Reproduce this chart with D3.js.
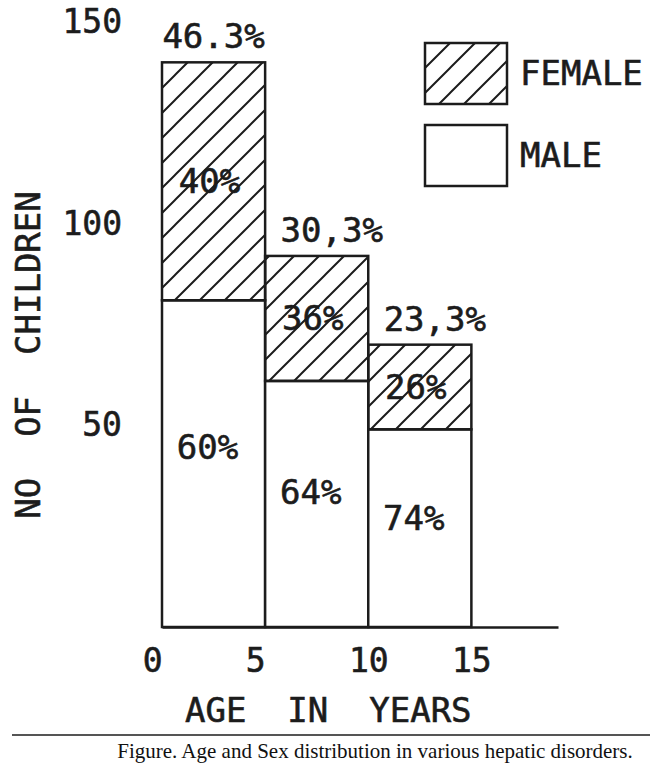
<!DOCTYPE html>
<html>
<head>
<meta charset="utf-8">
<script src="https://cdn.jsdelivr.net/npm/d3@7"></script>
<style>
  body { margin: 0; background: #fff; }
  text { white-space: pre; }
  text.mono { stroke: #1c1c1c; stroke-width: 0.6px; }
</style>
</head>
<body>
<div id="drawArea"></div>
<script>
// age groups (years) and counts
var ageStart = [0, 5, 10];
var ageEnd = [5, 10, 15];
var male = [81, 61, 49];
var female = [59, 31, 21];
var totalLabels = ["46.3%", "30,3%", "23,3%"];
var maleLabels = ["60%", "64%", "74%"];
var femaleLabels = ["40%", "36%", "26%"];
var xTicks = [0, 5, 10, 15];
var yTicks = [50, 100, 150];
var legendNames = ["FEMALE", "MALE"];

var ink = '#1c1c1c';
var mono = '"DejaVu Sans Mono", "Liberation Mono", monospace';

var width = 650, height = 770;

var svg = d3.select("#drawArea").append("svg")
	.attr("width", width)
	.attr("height", height);

svg.append("rect").attr("width", width).attr("height", height).attr("fill", "#fff");

// hatch for the female part
var defs = svg.append("defs");
defs.append("pattern")
	.attr("id", "hatch")
	.attr("patternUnits", "userSpaceOnUse")
	.attr("width", 25)
	.attr("height", 25)
	.append("path")
		.attr("d", "M0,25 L25,0 M-6,6 L6,-6 M19,31 L31,19")
		.attr("stroke", ink)
		.attr("stroke-width", 2);

var x = d3.scaleLinear().domain([0, 19.2]).range([162, 558]);
var y = d3.scaleLinear().domain([0, 150]).range([627, 22]);

var bars = ageStart.map(function(a, i) {
	return {start: a, end: ageEnd[i], male: male[i], female: female[i], i: i};
});

// male part
svg.selectAll("rect.male")
	.data(bars)
	.enter()
	.append("rect")
		.classed("male", true)
		.attr("x", function(d) { return x(d.start); })
		.attr("width", function(d) { return x(d.end) - x(d.start); })
		.attr("y", function(d) { return y(d.male); })
		.attr("height", function(d) { return y(0) - y(d.male); })
		.attr("fill", "#fff")
		.attr("stroke", ink)
		.attr("stroke-width", 2.5);

// female part on top
svg.selectAll("rect.female")
	.data(bars)
	.enter()
	.append("rect")
		.classed("female", true)
		.attr("x", function(d) { return x(d.start); })
		.attr("width", function(d) { return x(d.end) - x(d.start); })
		.attr("y", function(d) { return y(d.male + d.female); })
		.attr("height", function(d) { return y(d.male) - y(d.male + d.female); })
		.attr("fill", "url(#hatch)")
		.attr("stroke", ink)
		.attr("stroke-width", 2.5);

function mid(d) { return (x(d.start) + x(d.end)) / 2; }

var labelFont = { 'font-size': 34, 'font-family': mono, 'fill': ink };

function addText(sel) {
	return sel.classed("mono", true)
		.attr("font-family", labelFont["font-family"])
		.attr("font-size", labelFont["font-size"])
		.attr("fill", labelFont["fill"])
		.attr("text-anchor", "middle");
}

// percent over each bar (later ones sit a bit right in the original)
addText(svg.selectAll("text.total").data(bars).enter().append("text"))
	.attr("x", function(d) { return mid(d) + (d.i > 0 ? 15 : 0); })
	.attr("y", function(d) { return y(d.male + d.female) - 14; })
	.text(function(d) { return totalLabels[d.i]; });

addText(svg.selectAll("text.fem").data(bars).enter().append("text"))
	.attr("x", function(d) { return mid(d) - 4; })
	.attr("y", function(d) { return y(d.male + d.female / 2) + 12; })
	.text(function(d) { return femaleLabels[d.i]; });

addText(svg.selectAll("text.mal").data(bars).enter().append("text"))
	.attr("x", function(d) { return mid(d) - 6; })
	.attr("y", function(d) { return y(d.male * 0.55) + 12; })
	.text(function(d) { return maleLabels[d.i]; });

// x axis
var xAxis = d3.axisBottom(x)
	.tickValues(xTicks)
	.tickSize(0)
	.tickPadding(22)
	.tickFormat(function(d) { return String(d).padEnd(2, "\u00a0"); });

var gx = svg.append("g").attr("transform", "translate(0," + y(0) + ")").call(xAxis);
gx.select(".domain").attr("stroke", ink).attr("stroke-width", 2.5);
gx.selectAll("text")
	.classed("mono", true)
	.attr("font-family", mono)
	.attr("font-size", 33)
	.attr("fill", ink);

// y axis, labels only
var yAxis = d3.axisLeft(y).tickValues(yTicks).tickSize(0).tickPadding(0);
var gy = svg.append("g").attr("transform", "translate(122,0)").call(yAxis);
gy.select(".domain").remove();
gy.selectAll("text")
	.classed("mono", true)
	.attr("font-family", mono)
	.attr("font-size", 33)
	.attr("fill", ink);

// axis titles
svg.append("text")
	.classed("mono", true)
	.attr("x", 185)
	.attr("y", 722)
	.attr("font-family", mono)
	.attr("font-size", 34)
	.attr("fill", ink)
	.text("AGE  IN  YEARS");

svg.append("text")
	.classed("mono", true)
	.attr("transform", "translate(40,355) rotate(-90)")
	.attr("text-anchor", "middle")
	.attr("font-family", mono)
	.attr("font-size", 34)
	.attr("fill", ink)
	.text("NO  OF  CHILDREN");

// legend
var legend = svg.selectAll("g.legend")
	.data(legendNames)
	.enter()
	.append("g")
		.classed("legend", true)
		.attr("transform", function(d, i) { return "translate(425," + (43 + i * 82) + ")"; });

legend.append("rect")
	.attr("width", 82)
	.attr("height", 61)
	.attr("fill", function(d, i) { return i == 0 ? "url(#hatch)" : "#fff"; })
	.attr("stroke", ink)
	.attr("stroke-width", 2.5);

legend.append("text")
	.classed("mono", true)
	.attr("x", 95)
	.attr("y", 42)
	.attr("font-family", mono)
	.attr("font-size", 34)
	.attr("fill", ink)
	.text(function(d) { return d; });

// caption
svg.append("line")
	.attr("x1", 12).attr("x2", 650)
	.attr("y1", 735).attr("y2", 735)
	.attr("stroke", "#555")
	.attr("stroke-width", 2);

svg.append("text")
	.attr("x", 375)
	.attr("y", 758)
	.attr("text-anchor", "middle")
	.attr("font-family", '"Liberation Serif", "Times New Roman", serif')
	.attr("font-size", 21)
	.attr("fill", "#111")
	.text("Figure. Age and Sex distribution in various hepatic disorders.");
</script>
</body>
</html>
